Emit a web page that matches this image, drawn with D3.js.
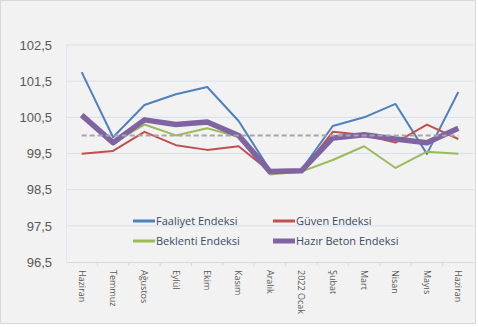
<!DOCTYPE html>
<html>
<head>
<meta charset="utf-8">
<script src="https://cdn.jsdelivr.net/npm/d3@7"></script>
<style>
  body { margin: 0; background: #ffffff; }
  svg { display: block; }
  .tick text { fill: #595959; }
</style>
</head>
<body>
<div class="chart"></div>
<script>
// chart data
var months = ["Haziran", "Temmuz", "Ağustos", "Eylül", "Ekim", "Kasım", "Aralık",
              "2022 Ocak", "Şubat", "Mart", "Nisan", "Mayıs", "Haziran "];
var faaliyet = [101.75, 99.95, 100.84, 101.14, 101.34, 100.4, 99.04, 99.05, 100.26, 100.5, 100.87, 99.49, 101.2];
var guven    = [99.49, 99.57, 100.1, 99.73, 99.6, 99.7, 99.0, 99.0, 100.1, 100.01, 99.8, 100.3, 99.9];
var beklenti = [100.55, 99.8, 100.3, 100.0, 100.2, 99.96, 98.92, 99.0, 99.32, 99.7, 99.1, 99.55, 99.49];
var hazirBeton = [100.56, 99.8, 100.43, 100.3, 100.37, 100.0, 99.0, 99.02, 99.93, 100.02, 99.9, 99.8, 100.2];
var baseline = [100, 100, 100, 100, 100, 100, 100, 100, 100, 100, 100, 100, 100];
var yTicks = [96.5, 97.5, 98.5, 99.5, 100.5, 101.5, 102.5];

var svgWidth = 478;
var svgHeight = 327;

var svg = d3.select(".chart")
    .append("svg")
    .attr("width", svgWidth)
    .attr("height", svgHeight);

// chart area background + frame
svg.append("rect")
    .attr("x", 0.5).attr("y", 0.5)
    .attr("width", svgWidth - 3).attr("height", svgHeight - 4)
    .attr("fill", "#f2f2f2")
    .attr("stroke", "#d9d9d9");

var plotLeft = 66, plotRight = 474, plotTop = 45, plotBottom = 262;

var x = d3.scaleBand()
    .domain(months)
    .range([plotLeft, plotRight]);

var y = d3.scaleLinear()
    .domain([96.5, 102.5])
    .range([plotBottom, plotTop]);

// gridlines
svg.append("g")
    .selectAll("line")
    .data(yTicks.slice(1))
    .enter()
    .append("line")
    .attr("x1", plotLeft).attr("x2", plotRight)
    .attr("y1", function(d) { return y(d); })
    .attr("y2", function(d) { return y(d); })
    .attr("stroke", "#d5e0ec")
    .attr("stroke-width", 1);

// y axis
var leftAxis = d3.axisLeft(y)
    .tickValues(yTicks)
    .tickSize(0)
    .tickPadding(14)
    .tickFormat(function(d) { return d3.format(".1f")(d).replace(".", ","); });

var yAxis = svg.append("g")
    .attr("transform", "translate(" + plotLeft + ",0)")
    .call(leftAxis);
yAxis.select(".domain").attr("stroke", "#dfe7f0");
yAxis.selectAll("text")
    .style("font-family", "'Liberation Sans', sans-serif")
    .style("font-size", "13px");

// x axis
var bottomAxis = d3.axisBottom(x).tickSize(0);
var xAxis = svg.append("g")
    .attr("transform", "translate(0," + plotBottom + ")")
    .call(bottomAxis);
xAxis.select(".domain").attr("stroke", "#d9d9d9");
xAxis.selectAll(".tick text")
    .attr("transform", "rotate(90)")
    .attr("x", 8)
    .attr("y", 0)
    .attr("dy", "0.35em")
    .style("text-anchor", "start")
    .style("font-family", "'Open Sans', sans-serif")
    .style("font-size", "9px")
    .text(function(d) { return d.trim(); });

// small tick marks between categories
svg.append("g")
    .selectAll("line")
    .data(months.slice(1))
    .enter()
    .append("line")
    .attr("x1", function(d) { return x(d); })
    .attr("x2", function(d) { return x(d); })
    .attr("y1", plotBottom)
    .attr("y2", plotBottom + 4)
    .attr("stroke", "#d9d9d9");

var line = d3.line()
    .x(function(d, i) { return x(months[i]) + x.bandwidth() / 2; })
    .y(function(d) { return y(d); });

var series = [
    {name: "Faaliyet Endeksi", values: faaliyet, color: "#4f81bd", width: 2},
    {name: "Güven Endeksi", values: guven, color: "#c0504d", width: 2},
    {name: "Beklenti Endeksi", values: beklenti, color: "#9bbb59", width: 2},
    {name: "Hazır Beton Endeksi", values: hazirBeton, color: "#8064a2", width: 5.5}
];

series.forEach(function(s) {
    svg.append("path")
        .datum(s.values)
        .attr("d", line)
        .attr("fill", "none")
        .attr("stroke", s.color)
        .attr("stroke-width", s.width)
        .attr("stroke-linejoin", "round");
});

// dashed 100 reference line
svg.append("path")
    .datum(baseline)
    .attr("d", line)
    .attr("fill", "none")
    .attr("stroke", "#a6a6a6")
    .attr("stroke-width", 2)
    .attr("stroke-dasharray", "5,3");

// legend
var legendPos = [[133, 221], [273, 221], [133, 241], [273, 241]];
var legend = svg.append("g");
series.forEach(function(s, i) {
    var p = legendPos[i];
    legend.append("line")
        .attr("x1", p[0]).attr("x2", p[0] + 22)
        .attr("y1", p[1]).attr("y2", p[1])
        .attr("stroke", s.color)
        .attr("stroke-width", s.width === 2 ? 3 : 5);
    legend.append("text")
        .attr("x", p[0] + 23)
        .attr("y", p[1])
        .attr("dy", "0.35em")
        .style("font-family", "'Open Sans', sans-serif")
        .style("font-size", "11px")
        .attr("fill", "#3b4a63")
        .text(s.name);
});
</script>
</body>
</html>
